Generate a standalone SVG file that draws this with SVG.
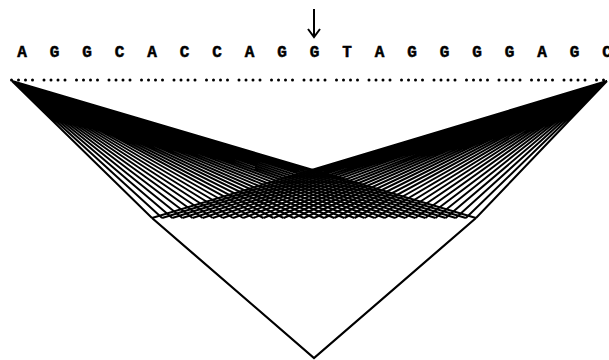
<svg xmlns="http://www.w3.org/2000/svg" width="609" height="360" viewBox="0 0 609 360">
<style>
.seq{font-family:"Liberation Mono","Courier New",monospace;font-weight:bold;font-size:16px;fill:#000;stroke:#000;stroke-width:0.5;text-anchor:middle}
.fan{fill:none;stroke:#000;stroke-width:2}
.edge{fill:none;stroke:#000;stroke-width:2.2}
.arrow{fill:none;stroke:#000;stroke-width:2}
</style>
<defs>
<g id="dots"><circle cx="-10.5" cy="0" r="1.5"/><circle cx="-3.5" cy="0" r="1.5"/><circle cx="3.5" cy="0" r="1.5"/><circle cx="10.5" cy="0" r="1.5"/></g>
</defs>
<rect width="609" height="360" fill="#fff"/>
<g id="marker-arrow" class="arrow"><path d="M314 9V37M308 29L314 37L320 29"/></g>
<g id="sequence" class="seq">
<text x="22" y="57">A</text><text x="54.5" y="57">G</text><text x="87" y="57">G</text><text x="119.5" y="57">C</text><text x="152" y="57">A</text><text x="184.5" y="57">C</text><text x="217" y="57">C</text><text x="249.5" y="57">A</text><text x="282" y="57">G</text><text x="314.5" y="57">G</text><text x="347" y="57">T</text><text x="379.5" y="57">A</text><text x="412" y="57">G</text><text x="444.5" y="57">G</text><text x="477" y="57">G</text><text x="509.5" y="57">G</text><text x="542" y="57">A</text><text x="574.5" y="57">G</text><text x="607" y="57">C</text>
</g>
<g id="dot-row">
<use href="#dots" x="22" y="80"/><use href="#dots" x="54.5" y="80"/><use href="#dots" x="87" y="80"/><use href="#dots" x="119.5" y="80"/><use href="#dots" x="152" y="80"/><use href="#dots" x="184.5" y="80"/><use href="#dots" x="217" y="80"/><use href="#dots" x="249.5" y="80"/><use href="#dots" x="282" y="80"/><use href="#dots" x="314.5" y="80"/><use href="#dots" x="347" y="80"/><use href="#dots" x="379.5" y="80"/><use href="#dots" x="412" y="80"/><use href="#dots" x="444.5" y="80"/><use href="#dots" x="477" y="80"/><use href="#dots" x="509.5" y="80"/><use href="#dots" x="542" y="80"/><use href="#dots" x="574.5" y="80"/><use href="#dots" x="607" y="80"/>
</g>
<g id="connectors">
<path id="left-fan" class="fan" d="M12 81L152 218M12 81L162.13 218M12 81L172.25 218M12 81L182.38 218M12 81L192.5 218M12 81L202.63 218M12 81L212.75 218M12 81L222.88 218M12 81L233 218M12 81L243.13 218M12 81L253.25 218M12 81L263.38 218M12 81L273.5 218M12 81L283.63 218M12 81L293.75 218M12 81L303.88 218M12 81L314 218M12 81L324.13 218M12 81L334.25 218M12 81L344.38 218M12 81L354.5 218M12 81L364.63 218M12 81L374.75 218M12 81L384.88 218M12 81L395 218M12 81L405.13 218M12 81L415.25 218M12 81L425.38 218M12 81L435.5 218M12 81L445.63 218M12 81L455.75 218M12 81L465.88 218M12 81L476 218"/>
<path id="right-fan" class="fan" d="M607 81L152 218M607 81L162.13 218M607 81L172.25 218M607 81L182.38 218M607 81L192.5 218M607 81L202.63 218M607 81L212.75 218M607 81L222.88 218M607 81L233 218M607 81L243.13 218M607 81L253.25 218M607 81L263.38 218M607 81L273.5 218M607 81L283.63 218M607 81L293.75 218M607 81L303.88 218M607 81L314 218M607 81L324.13 218M607 81L334.25 218M607 81L344.38 218M607 81L354.5 218M607 81L364.63 218M607 81L374.75 218M607 81L384.88 218M607 81L395 218M607 81L405.13 218M607 81L415.25 218M607 81L425.38 218M607 81L435.5 218M607 81L445.63 218M607 81L455.75 218M607 81L465.88 218M607 81L476 218"/>
<path id="lower-v" class="edge" d="M152 218L314 358L476 218"/>
</g>
</svg>
